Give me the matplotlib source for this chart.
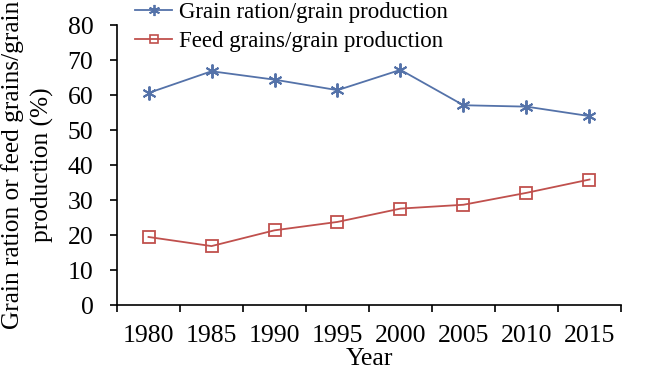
import matplotlib
matplotlib.use("Agg")
import matplotlib.pyplot as plt
from matplotlib.lines import Line2D

years = ["1980", "1985", "1990", "1995", "2000", "2005", "2010", "2015"]
grain_ration = [60.6, 66.8, 64.4, 61.4, 67.2, 57.1, 56.7, 54.0]
feed_grains = [19.5, 16.9, 21.4, 23.8, 27.6, 28.7, 32.1, 35.9]
yticks = [0, 10, 20, 30, 40, 50, 60, 70, 80]

plt.rcParams['font.family'] = ['Liberation Serif', 'DejaVu Serif']
fs = 18.5
blue = '#5472a9'
red = '#c0504d'

fig = plt.figure(figsize=(6.5, 3.71), dpi=100)
ax = fig.add_axes([117/650, 1-305.3/371, (621-117)/650, (305.3-25)/371])

x = list(range(len(years)))
ax.plot(x, grain_ration, color=blue, lw=1.3, marker=(6, 2, 0), ms=10, mew=1.4)
ax.plot(x, feed_grains, color=red, lw=1.3, marker='s', ms=8, mfc='none', mew=1.3)

ax.set_xlim(-0.5, len(years) - 0.5)
ax.set_ylim(0, 80)
ax.set_yticks(yticks)
ax.set_yticklabels([str(v) for v in yticks], fontsize=fs)
ax.set_xticks(x)
ax.set_xticklabels(years, fontsize=fs)
ax.set_xticks([i - 0.5 for i in range(len(years) + 1)], minor=True)
ax.tick_params(axis='x', which='major', length=0, pad=14)
ax.tick_params(axis='x', which='minor', length=5, width=1.2, direction='out')
ax.tick_params(axis='y', length=5, width=1.2, direction='out', pad=12)
for s in ['top', 'right']:
    ax.spines[s].set_visible(False)
for s in ['left', 'bottom']:
    ax.spines[s].set_linewidth(1.2)

ax.set_xlabel('Year', fontsize=fs, labelpad=1)
ax.set_ylabel('Grain ration or feed grains/grain\nproduction (%)', fontsize=18.3,
              linespacing=1.4, labelpad=10)

h1 = Line2D([], [], color=blue, lw=1.3, marker=(6, 2, 0), ms=8, mew=1.3)
h2 = Line2D([], [], color=red, lw=1.3, marker='s', ms=6, mfc='none', mew=1.2)
fig.legend([h1, h2], ['Grain ration/grain production', 'Feed grains/grain production'],
           loc='upper left', bbox_to_anchor=(126/650, 1 + 7/371), frameon=False,
           fontsize=16.5, handlelength=1.6, handletextpad=0.3, labelspacing=0.36,
           borderaxespad=0)

fig.savefig('out.png', dpi=100)
